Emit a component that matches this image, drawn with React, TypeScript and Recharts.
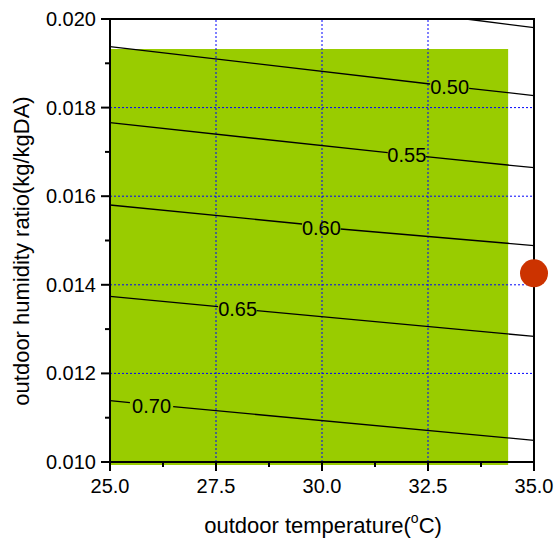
import React from 'react';
import { ComposedChart, XAxis, YAxis, Line, Scatter, ReferenceArea, ReferenceLine } from 'recharts';

const FONT = '"Liberation Sans", Arial, Helvetica, sans-serif';

const xMajorTicks = [25, 27.5, 30, 32.5, 35];
const xMinorTicks = [26.25, 28.75, 31.25, 33.75];
const yMajorTicks = [0.01, 0.012, 0.014, 0.016, 0.018, 0.02];
const yMinorTicks = [0.011, 0.013, 0.015, 0.017, 0.019];
const xGridValues = [27.5, 30, 32.5];
const yGridValues = [0.012, 0.014, 0.016, 0.018];

const zoneX = [25, 34.39];
const zoneY = [0.00993, 0.01932];

const contour045 = [{ x: 33.4, y: 0.02 }, { x: 35, y: 0.019804 }];
const contour050a = [{ x: 25, y: 0.019375 }, { x: 32.55, y: 0.018533 }];
const contour050b = [{ x: 33.47, y: 0.018436 }, { x: 35, y: 0.018269 }];
const contour055a = [{ x: 25, y: 0.017659 }, { x: 31.55, y: 0.016982 }];
const contour055b = [{ x: 32.45, y: 0.016892 }, { x: 35, y: 0.016643 }];
const contour060a = [{ x: 25, y: 0.015801 }, { x: 29.53, y: 0.015372 }];
const contour060b = [{ x: 30.44, y: 0.01526 }, { x: 35, y: 0.014886 }];
const contour065a = [{ x: 25, y: 0.01374 }, { x: 27.55, y: 0.013506 }];
const contour065b = [{ x: 28.46, y: 0.013415 }, { x: 35, y: 0.012835 }];
const contour070a = [{ x: 25, y: 0.011384 }, { x: 25.47, y: 0.011339 }];
const contour070b = [{ x: 26.49, y: 0.011248 }, { x: 35, y: 0.01049 }];

const contourSegments = [
  contour045, contour050a, contour050b, contour055a, contour055b,
  contour060a, contour060b, contour065a, contour065b, contour070a, contour070b,
];

const contourLabels = [
  { x: 33.01, y: 0.018465, text: '0.50' },
  { x: 32.0, y: 0.01693, text: '0.55' },
  { x: 29.985, y: 0.015289, text: '0.60' },
  { x: 28.01, y: 0.013447, text: '0.65' },
  { x: 25.98, y: 0.011264, text: '0.70' },
];

const currentPoint = [{ x: 35, y: 0.01426 }];

const isIn = (arr: number[], v: number) => arr.some((t) => Math.abs(t - v) < 1e-9);

const XTick = (props: any) => {
  const { x, y, payload } = props;
  const v = payload.value;
  const major = isIn(xMajorTicks, v);
  return (
    <g>
      <line x1={x} y1={y} x2={x} y2={y + (major ? 9 : 5)} stroke="#000" strokeWidth={2} />
      {major && (
        <text x={x} y={y + 31} textAnchor="middle" fontSize={20} fontFamily={FONT} fill="#000">
          {v.toFixed(1)}
        </text>
      )}
    </g>
  );
};

const YTick = (props: any) => {
  const { x, y, payload } = props;
  const v = payload.value;
  const major = isIn(yMajorTicks, v);
  return (
    <g>
      <line x1={x} y1={y} x2={x - (major ? 9 : 5)} y2={y} stroke="#000" strokeWidth={2} />
      {major && (
        <text x={x - 14} y={y + 7} textAnchor="end" fontSize={20} fontFamily={FONT} fill="#000">
          {v.toFixed(3)}
        </text>
      )}
    </g>
  );
};

const LabelShape = (props: any) => {
  const { cx, cy, payload } = props;
  return (
    <text x={cx} y={cy + 7} textAnchor="middle" fontSize={20} fontFamily={FONT} fill="#000">
      {payload.text}
    </text>
  );
};

const DotShape = (props: any) => {
  const { cx, cy } = props;
  return <circle cx={cx} cy={cy} r={14} fill="#cc3300" />;
};

export default function App() {
  const xTicks = [...xMajorTicks, ...xMinorTicks].sort((a, b) => a - b);
  const yTicks = [...yMajorTicks, ...yMinorTicks].sort((a, b) => a - b);
  return (
    <div style={{ position: 'absolute', left: 0, top: 0, width: 557, height: 545, background: '#fff' }}>
      <ComposedChart width={557} height={545} margin={{ top: 19, right: 23, bottom: 43, left: 40 }}>
        <XAxis
          dataKey="x"
          type="number"
          domain={[25, 35]}
          ticks={xTicks}
          interval={0}
          tickSize={0}
          tickMargin={0}
          tick={<XTick />}
          axisLine={{ stroke: '#000', strokeWidth: 2 }}
          height={40}
        />
        <YAxis
          dataKey="y"
          type="number"
          domain={[0.01, 0.02]}
          ticks={yTicks}
          interval={0}
          tickSize={0}
          tickMargin={0}
          tick={<YTick />}
          axisLine={{ stroke: '#000', strokeWidth: 2 }}
          width={70}
        />
        <ReferenceArea
          x1={zoneX[0]}
          x2={zoneX[1]}
          y1={zoneY[0]}
          y2={zoneY[1]}
          fill="#99cc00"
          fillOpacity={1}
          stroke="none"
          ifOverflow="visible"
        />
        {xGridValues.map((v) => (
          <ReferenceLine key={'gx' + v} x={v} stroke="#0000ff" strokeWidth={1} strokeDasharray="2 2" />
        ))}
        {yGridValues.map((v) => (
          <ReferenceLine key={'gy' + v} y={v} stroke="#0000ff" strokeWidth={1} strokeDasharray="2 2" />
        ))}
        {contourSegments.map((seg, i) => (
          <Line
            key={'c' + i}
            data={seg}
            dataKey="y"
            stroke="#000"
            strokeWidth={1.3}
            dot={false}
            activeDot={false}
            isAnimationActive={false}
          />
        ))}
        <Scatter data={contourLabels} dataKey="y" shape={<LabelShape />} isAnimationActive={false} />
        <ReferenceArea x1={25} x2={35} y1={0.01} y2={0.02} fill="none" fillOpacity={0} stroke="#000" strokeWidth={2} />
        <Scatter data={currentPoint} dataKey="y" shape={<DotShape />} isAnimationActive={false} />
      </ComposedChart>
      <svg width={557} height={545} style={{ position: 'absolute', left: 0, top: 0, pointerEvents: 'none' }}>
        <text x={323} y={533} textAnchor="middle" fontSize={22} fontFamily={FONT} fill="#000">
          outdoor temperature(
          <tspan fontSize={14} dy={-10}>o</tspan>
          <tspan dy={10}>C)</tspan>
        </text>
        <text
          x={29}
          y={251}
          transform="rotate(-90 29 251)"
          textAnchor="middle"
          fontSize={22}
          fontFamily={FONT}
          fill="#000"
        >
          outdoor humidity ratio(kg/kgDA)
        </text>
      </svg>
    </div>
  );
}
